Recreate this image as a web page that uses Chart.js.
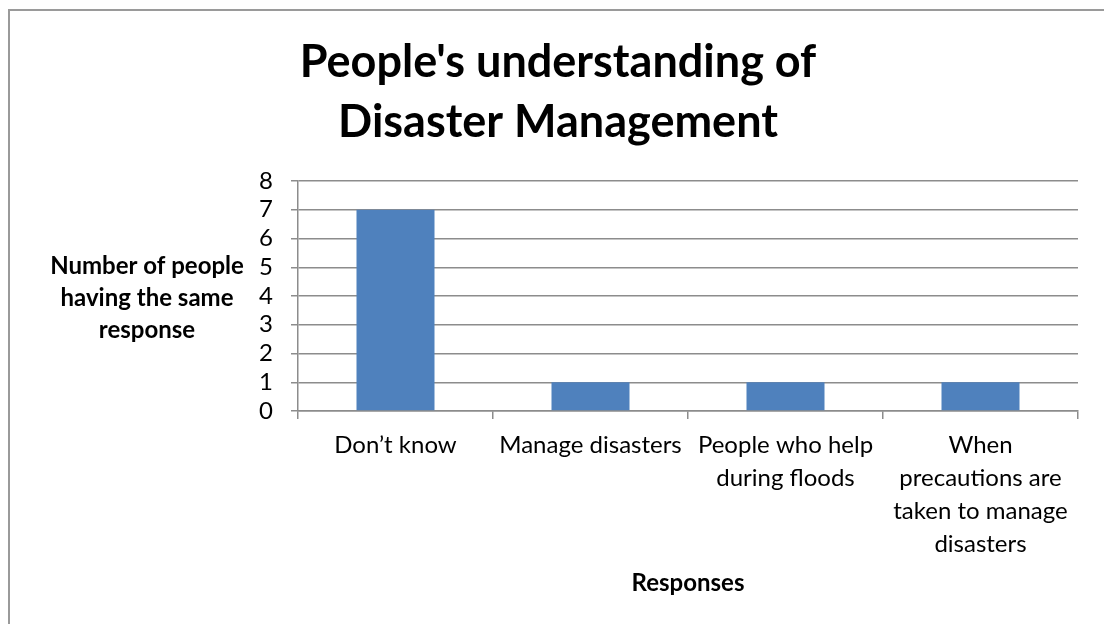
<!DOCTYPE html>
<html>
<head>
<meta charset="utf-8">
<script src="https://cdn.jsdelivr.net/npm/chart.js@4.4.0/dist/chart.umd.min.js"></script>
<style>
  html, body { margin: 0; padding: 0; background: #fff; }
  #wrap { position: relative; width: 1104px; height: 624px; overflow: hidden; }
  #frame { position: absolute; left: 8px; top: 9px; width: 1200px; height: 700px;
           border-left: 2px solid #9a9a9a; border-top: 2px solid #9a9a9a; }
  canvas { position: absolute; left: 0; top: 0; }
</style>
</head>
<body>
<div id="wrap">
  <div id="frame"></div>
  <canvas id="chart" width="1104" height="624"></canvas>
</div>
<script>
// Dados do gráfico
const categories = [
  ['Don’t know'],
  ['Manage disasters'],
  ['People who help', 'during floods'],
  ['When', 'precautions are', 'taken to manage', 'disasters']
];
const responses = [7, 1, 1, 1];
const titleLines = ["People's understanding of", 'Disaster Management'];
const yTitleLines = ['Number of people', 'having the same', 'response'];
const xTitle = 'Responses';

const fontFamily = 'Lato, "Open Sans", sans-serif';
const gridColor = '#8c8c8c';

// Desenha o título e o título do eixo Y na horizontal
const textPlugin = {
  id: 'textPlugin',
  afterDraw(chart) {
    const ctx = chart.ctx;
    ctx.save();
    ctx.fillStyle = '#000';
    ctx.textAlign = 'center';
    ctx.textBaseline = 'middle';

    ctx.font = `bold 45px ${fontFamily}`;
    titleLines.forEach((line, i) => {
      ctx.fillText(line, 558, 62 + i * 60);
    });

    ctx.font = `bold 24px ${fontFamily}`;
    yTitleLines.forEach((line, i) => {
      ctx.fillText(line, 147, 266 + i * 32);
    });
    ctx.restore();
  }
};

const ctx = document.getElementById('chart').getContext('2d');
new Chart(ctx, {
  type: 'bar',
  data: {
    labels: categories,
    datasets: [{
      label: 'Responses',
      data: responses,
      backgroundColor: '#4F81BD',
      borderWidth: 0,
      categoryPercentage: 1,
      barPercentage: 0.4
    }]
  },
  options: {
    responsive: false,
    animation: false,
    layout: { padding: { top: 181, right: 26, bottom: 0, left: 0 } },
    plugins: {
      legend: { display: false },
      tooltip: { enabled: false },
      title: { display: false }
    },
    scales: {
      x: {
        afterFit(scale) { scale.height = 213; },
        grid: {
          offset: true,
          drawOnChartArea: false,
          color: gridColor,
          lineWidth: 1.5,
          tickLength: 8
        },
        border: { display: true, color: gridColor, width: 1.5 },
        ticks: {
          color: '#000',
          font: { family: fontFamily, size: 24, lineHeight: 1.375 },
          padding: 10,
          maxRotation: 0,
          autoSkip: false
        },
        title: {
          display: true,
          text: xTitle,
          color: '#000',
          font: { family: fontFamily, size: 24, weight: 'bold', lineHeight: 1.2 },
          padding: { top: 0, bottom: 26 }
        }
      },
      y: {
        min: 0,
        max: 8,
        afterFit(scale) { scale.width = 298; },
        grid: {
          color: gridColor,
          lineWidth: 1.5,
          tickLength: 7
        },
        border: { display: true, color: gridColor, width: 1.5 },
        ticks: {
          stepSize: 1,
          autoSkip: false,
          color: '#000',
          font: { family: fontFamily, size: 24 },
          padding: 18
        }
      }
    }
  },
  plugins: [textPlugin]
});
</script>
</body>
</html>
